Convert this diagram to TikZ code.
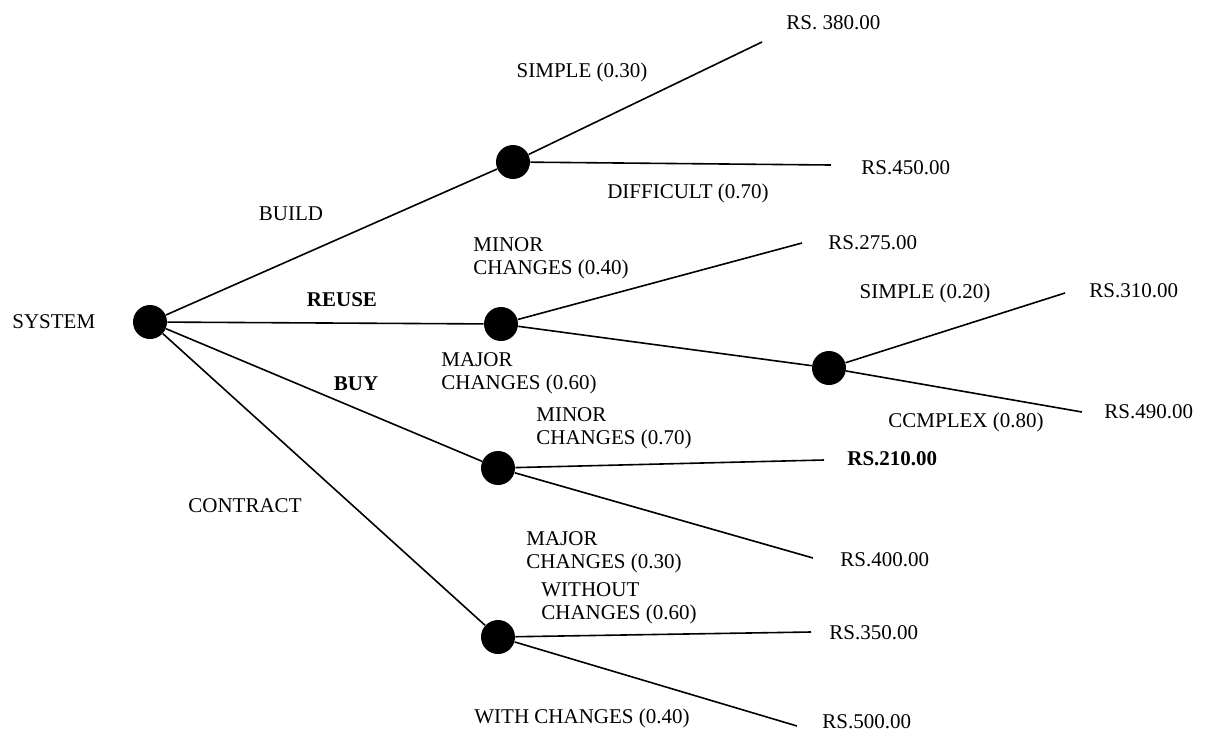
\documentclass[tikz,border=0pt]{standalone}
\usepackage{fontspec}
\setmainfont{Liberation Serif}

\begin{document}
\begin{tikzpicture}[x=0.5pt,y=-0.5pt,
    chance/.style={circle, fill=black, inner sep=0pt, minimum size=17pt},
    branch/.style={line width=0.8pt},
    lbl/.style={inner sep=1pt, font=\fontsize{10.5}{11.5}\selectfont},
    cost/.style={lbl, anchor=west}
]
\useasboundingbox (0,0) rectangle (1207,735);

% Decision nodes
\node[chance] (SYS) at (150,322){};
\node[chance] (BUILD) at (513,162){};
\node[chance] (REUSE) at (501,324){};
\node[chance] (MAJ) at (829,368){};
\node[chance] (BUY) at (498,468){};
\node[chance] (CON) at (498,637){};

\node[lbl, anchor=west] (sysname) at (10,322){SYSTEM};

% Main branches
\draw[branch] (SYS) -- (BUILD);
\draw[branch] (SYS) -- (REUSE);
\draw[branch] (SYS) -- (BUY);
\draw[branch] (SYS) -- (CON);
\node[lbl] (lbuild) at (291,214){BUILD};
\node[lbl, font=\fontsize{10.5}{11.5}\selectfont\bfseries] (lreuse) at (342,300){REUSE};
\node[lbl, font=\fontsize{10.5}{11.5}\selectfont\bfseries] (lbuy) at (356,384){BUY};
\node[lbl] (lcontract) at (245,506){CONTRACT};

% Build
\coordinate (e380) at (762,42);
\coordinate (e450) at (831,165);
\draw[branch] (BUILD) -- (e380);
\draw[branch] (BUILD) -- (e450);
\node[cost] (c380) at (784,23){RS. 380.00};
\node[cost] (c450) at (859,168){RS.450.00};
\node[lbl] (lsimple) at (582,72){SIMPLE (0.30)};
\node[lbl] (ldiff) at (688,193){DIFFICULT (0.70)};

% Reuse
\coordinate (e275) at (802,243);
\draw[branch] (REUSE) -- (e275);
\draw[branch] (REUSE) -- (MAJ);
\node[cost] (c275) at (826,243){RS.275.00};
\node[lbl, align=left, anchor=west] (lminor) at (471,258){MINOR\\CHANGES (0.40)};
\node[lbl, align=left, anchor=west] (lmajor) at (439,373){MAJOR\\CHANGES (0.60)};

\coordinate (e310) at (1065,293);
\coordinate (e490) at (1082,412);
\draw[branch] (MAJ) -- (e310);
\draw[branch] (MAJ) -- (e490);
\node[cost] (c310) at (1087,291){RS.310.00};
\node[cost] (c490) at (1102,412){RS.490.00};
\node[lbl] (lsimple2) at (925,293){SIMPLE (0.20)};
\node[lbl] (lcomplex) at (966,422){CCMPLEX (0.80)};

% Buy
\coordinate (e210) at (824,460);
\coordinate (e400) at (813,558);
\draw[branch] (BUY) -- (e210);
\draw[branch] (BUY) -- (e400);
\node[cost, font=\fontsize{10.5}{11.5}\selectfont\bfseries] (c210) at (845,459){RS.210.00};
\node[cost] (c400) at (838,560){RS.400.00};
\node[lbl, align=left, anchor=west] (lminor2) at (534,428){MINOR\\CHANGES (0.70)};
\node[lbl, align=left, anchor=west] (lmajor2) at (524,552){MAJOR\\CHANGES (0.30)};

% Contract
\coordinate (e350) at (811,632);
\coordinate (e500) at (797,726);
\draw[branch] (CON) -- (e350);
\draw[branch] (CON) -- (e500);
\node[cost] (c350) at (827,633){RS.350.00};
\node[cost] (c500) at (820,722){RS.500.00};
\node[lbl, align=left, anchor=west] (lwithout) at (539,603){WITHOUT\\CHANGES (0.60)};
\node[lbl] (lwith) at (582,718){WITH CHANGES (0.40)};
\end{tikzpicture}
\end{document}
